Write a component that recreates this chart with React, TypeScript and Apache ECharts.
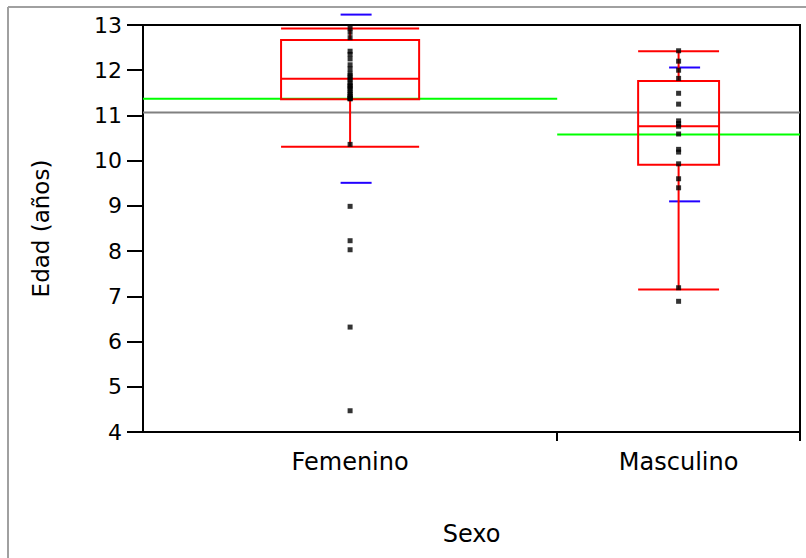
import React, { useEffect, useRef } from "react";
import * as echarts from "echarts";

const categories = ["Femenino", "Masculino"];
const groupCounts = [29, 17];
const femeninoValues = [
  12.93, 12.84, 12.72, 12.42, 12.35, 12.25, 12.12, 12.03, 11.93, 11.88, 11.83,
  11.78, 11.72, 11.66, 11.6, 11.55, 11.5, 11.46, 11.42, 11.39, 11.37, 11.37,
  10.36, 8.99, 8.23, 8.03, 6.32, 4.47, 11.65,
];
const masculinoValues = [
  12.43, 12.2, 12.0, 11.82, 11.49, 11.25, 10.88, 10.82, 10.76, 10.59, 10.25,
  10.19, 9.93, 9.6, 9.4, 7.19, 6.89,
];
const whiskerLow = [10.31, 7.15];
const quartile1 = [11.36, 9.91];
const medians = [11.81, 10.76];
const quartile3 = [12.67, 11.76];
const whiskerHigh = [12.92, 12.42];
const groupMeans = [11.37, 10.58];
const groupStdDev = [1.86, 1.48];
const grandMean = 11.065;
const yMin = 4;
const yMax = 13;
const yInterval = 1;

const FONT = "DejaVu Sans";

export default function App() {
  const ref = useRef<HTMLDivElement>(null);

  useEffect(() => {
    if (!ref.current) return;
    const chart = echarts.init(ref.current, null, { renderer: "svg" });

    const starts: number[] = [];
    let acc = 0;
    groupCounts.forEach((c) => {
      starts.push(acc);
      acc += c;
    });
    const total = acc;
    const centers = groupCounts.map((c, i) => starts[i] + c / 2);
    const boundaries = groupCounts.map((c, i) => starts[i] + c);
    const groupValues = [femeninoValues, masculinoValues];

    const RED = "#ff0000";

    const option: any = {
      animation: false,
      backgroundColor: "#ffffff",
      grid: {
        left: 143,
        right: 6,
        top: 25,
        bottom: 126,
        show: true,
        borderColor: "#000000",
        borderWidth: 2,
        backgroundColor: "transparent",
      },
      xAxis: {
        type: "value",
        min: 0,
        max: total,
        name: "Sexo",
        nameLocation: "middle",
        nameGap: 90,
        nameTextStyle: { color: "#000", fontSize: 24, fontFamily: FONT },
        axisLine: { show: true, lineStyle: { color: "#000", width: 2 } },
        axisTick: {
          show: true,
          inside: false,
          length: 9,
          customValues: boundaries,
          lineStyle: { color: "#000", width: 2 },
        },
        axisLabel: {
          show: true,
          customValues: centers,
          color: "#000",
          fontSize: 24,
          fontFamily: FONT,
          margin: 18,
          formatter: (v: number) => {
            const idx = centers.findIndex((c) => Math.abs(c - v) < 1e-6);
            return idx >= 0 ? categories[idx] : "";
          },
        },
        splitLine: { show: false },
      },
      yAxis: {
        type: "value",
        min: yMin,
        max: yMax,
        interval: yInterval,
        name: "Edad (años)",
        nameLocation: "middle",
        nameGap: 91,
        nameTextStyle: { color: "#000", fontSize: 23, fontFamily: FONT },
        axisLine: { show: true, lineStyle: { color: "#000", width: 2 } },
        axisTick: {
          show: true,
          inside: false,
          length: 16,
          lineStyle: { color: "#000", width: 2 },
        },
        axisLabel: { color: "#000", fontSize: 22, fontFamily: FONT, margin: 21 },
        splitLine: { show: false },
      },
      graphic: [
        {
          type: "line",
          shape: { x1: 8, y1: 7, x2: 806, y2: 7 },
          style: { stroke: "#a0a0a0", lineWidth: 2 },
        },
        {
          type: "line",
          shape: { x1: 8, y1: 7, x2: 8, y2: 558 },
          style: { stroke: "#a0a0a0", lineWidth: 2 },
        },
      ],
      series: [
        {
          type: "line",
          data: [
            [0, grandMean],
            [total, grandMean],
          ],
          symbol: "none",
          lineStyle: { color: "#808080", width: 2 },
          z: 1,
        },
        {
          type: "custom",
          clip: false,
          z: 2,
          data: categories.map((_, i) => [i]),
          renderItem: (params: any, api: any) => {
            const i = api.value(0);
            const x0 = starts[i];
            const x1 = boundaries[i];
            const c = centers[i];
            const hw = groupCounts[i] / 6;
            const pc = api.coord([c, medians[i]]);
            const cx = pc[0];
            const left = api.coord([c - hw, 0])[0];
            const right = api.coord([c + hw, 0])[0];
            const yLow = api.coord([c, whiskerLow[i]])[1];
            const yQ1 = api.coord([c, quartile1[i]])[1];
            const yMed = pc[1];
            const yQ3 = api.coord([c, quartile3[i]])[1];
            const yHigh = api.coord([c, whiskerHigh[i]])[1];
            const gL = api.coord([x0, groupMeans[i]]);
            const gR = api.coord([x1, groupMeans[i]]);
            const yUp = api.coord([c, groupMeans[i] + groupStdDev[i]])[1];
            const yDn = api.coord([c, groupMeans[i] - groupStdDev[i]])[1];
            const bx = cx + 6;
            const redStyle = { stroke: RED, lineWidth: 2, fill: "none" };
            const blueStyle = { stroke: "#2200ff", lineWidth: 2 };
            return {
              type: "group",
              children: [
                {
                  type: "line",
                  shape: { x1: gL[0], y1: gL[1], x2: gR[0], y2: gR[1] },
                  style: { stroke: "#00ff00", lineWidth: 2 },
                },
                {
                  type: "line",
                  shape: { x1: bx - 15.5, y1: yUp, x2: bx + 15.5, y2: yUp },
                  style: blueStyle,
                },
                {
                  type: "line",
                  shape: { x1: bx - 15.5, y1: yDn, x2: bx + 15.5, y2: yDn },
                  style: blueStyle,
                },
                {
                  type: "line",
                  shape: { x1: cx, y1: yLow, x2: cx, y2: yQ1 },
                  style: redStyle,
                },
                {
                  type: "line",
                  shape: { x1: cx, y1: yQ3, x2: cx, y2: yHigh },
                  style: redStyle,
                },
                {
                  type: "line",
                  shape: { x1: left, y1: yLow, x2: right, y2: yLow },
                  style: redStyle,
                },
                {
                  type: "line",
                  shape: { x1: left, y1: yHigh, x2: right, y2: yHigh },
                  style: redStyle,
                },
                {
                  type: "rect",
                  shape: { x: left, y: yQ3, width: right - left, height: yQ1 - yQ3 },
                  style: redStyle,
                },
                {
                  type: "line",
                  shape: { x1: left, y1: yMed, x2: right, y2: yMed },
                  style: redStyle,
                },
              ],
            };
          },
        },
        {
          type: "scatter",
          z: 3,
          symbol: "rect",
          symbolSize: [5, 5],
          itemStyle: { color: "#000000" },
          data: groupValues.flatMap((vals, i) => vals.map((v) => [centers[i], v])),
        },
      ],
    };

    chart.setOption(option);
    return () => chart.dispose();
  }, []);

  return (
    <div
      ref={ref}
      style={{ position: "fixed", left: 0, top: 0, width: 806, height: 558 }}
    />
  );
}
